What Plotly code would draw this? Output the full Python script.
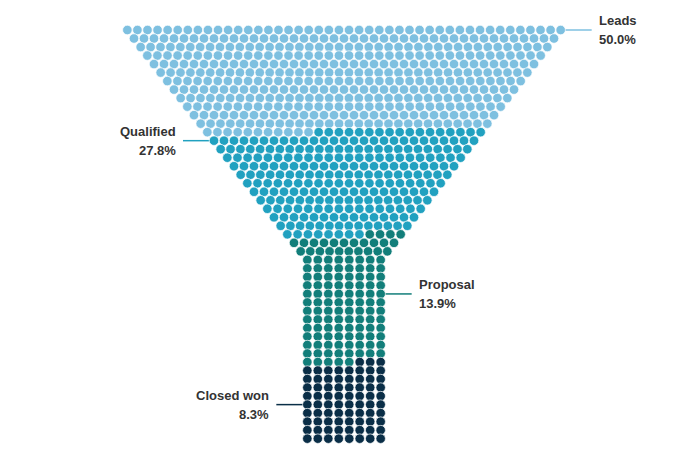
import math
import plotly.graph_objects as go

# ---- data ----
stages = ["Leads", "Qualified", "Proposal", "Closed won"]
shares = [50.0, 27.8, 13.9, 8.3]          # label percentages
dot_counts = [455, 249, 126, 75]          # dots per stage (counted)
colors = ["#7EC0E0", "#21A1C0", "#127E7A", "#0A2E47"]
label_rows = [0, 13, 31, 44]
label_sides = ["right", "left", "right", "left"]

# ---- layout parameters (page-pixel coordinate system) ----
W, H = 688, 470
page_margin = 8   # default body margin of the html page
cx = 344.0
y0 = 30.0
row_step = 8.514
dot_gap = 10.0
top_width = 1300 / 3
taper = 40 / 3
stem_width = 220 / 3

total = sum(dot_counts)
rows = []  # list of (y, [x...])
placed = 0
i = 0
while placed < total:
    w = max(top_width - taper * i, stem_width)
    n = int(round(w / dot_gap)) + 1
    step = w / (n - 1)
    xs = [cx - w / 2 + j * step for j in range(n)]
    rows.append((y0 + i * row_step, xs))
    placed += n
    i += 1

# assign stages in reading order
bounds = []
c = 0
for d in dot_counts:
    c += d
    bounds.append(c)

px = [[] for _ in stages]
py = [[] for _ in stages]
k = 0
for y, xs in rows:
    for x in xs:
        if k >= total:
            break
        s = next(si for si, b in enumerate(bounds) if k < b)
        px[s].append(x)
        py[s].append(y)
        k += 1

fig = go.Figure()

annotations = []
line_len = 31
text_pad = 5
font = dict(size=13, color="#333333", family="Liberation Sans, Arial, sans-serif")
for s, name in enumerate(stages):
    ry, rxs = rows[label_rows[s]]
    if label_sides[s] == "right":
        xa = rxs[-1]
        xb = xa + line_len
        tx = xb + text_pad
        anchor = "left"
    else:
        xa = rxs[0]
        xb = xa - line_len
        tx = xb - text_pad
        anchor = "right"
    fig.add_trace(go.Scatter(x=[xa, xb], y=[ry, ry], mode="lines",
                             line=dict(color=colors[s], width=1.5),
                             hoverinfo="skip", showlegend=False))
    annotations.append(dict(x=tx, y=ry - 9.5, text="<b>%s</b>" % name,
                            xanchor=anchor, yanchor="middle", showarrow=False,
                            font=font))
    annotations.append(dict(x=tx, y=ry + 9.5, text="<b>%.1f%%</b>" % shares[s],
                            xanchor=anchor, yanchor="middle", showarrow=False,
                            font=font))

for s, name in enumerate(stages):
    fig.add_trace(go.Scatter(x=px[s], y=py[s], mode="markers", name=name,
                             marker=dict(size=9.5, color=colors[s],
                                         line=dict(color="white", width=0.7)),
                             showlegend=False))

fig.update_layout(
    width=W - page_margin, height=H - page_margin,
    margin=dict(l=0, r=0, t=0, b=0),
    paper_bgcolor="white", plot_bgcolor="white",
    xaxis=dict(range=[page_margin, W], visible=False, fixedrange=True),
    yaxis=dict(range=[H, page_margin], visible=False, fixedrange=True),
    annotations=annotations,
)

fig.write_html("out.html")
